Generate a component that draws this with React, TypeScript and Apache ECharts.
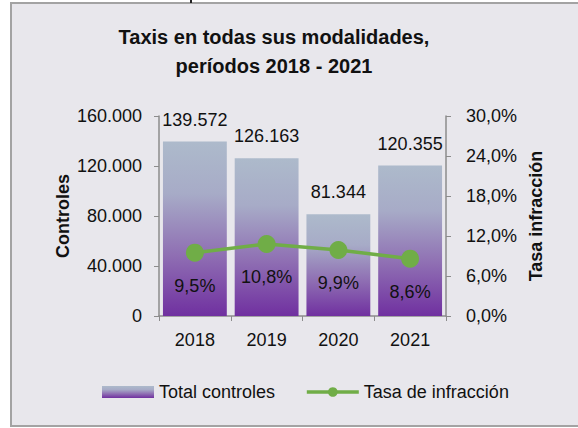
import React, { useEffect, useRef } from "react";
import * as echarts from "echarts";

const categories = ["2018", "2019", "2020", "2021"];
const totalControles = [139572, 126163, 81344, 120355];
const tasaInfraccion = [0.095, 0.108, 0.099, 0.086];
const titleLines = ["Taxis en todas sus modalidades,", "períodos 2018 - 2021"];

const FONT = "'Liberation Sans Narrow', 'Arial Narrow', 'Liberation Sans', Arial, sans-serif";

const fmtThousands = (v: number) =>
  String(Math.round(v)).replace(/\B(?=(\d{3})+(?!\d))/g, ".");
const fmtPct = (v: number) => (v * 100).toFixed(1).replace(".", ",") + "%";

export default function App() {
  const ref = useRef<HTMLDivElement>(null);
  useEffect(() => {
    if (!ref.current) return;
    const chart = echarts.init(ref.current, undefined, { renderer: "svg" });
    const barGradient = new echarts.graphic.LinearGradient(0, 0, 0, 1, [
      { offset: 0, color: "#ADBACB" },
      { offset: 0.3, color: "#A7ABC7" },
      { offset: 0.65, color: "#8F6FB3" },
      { offset: 1, color: "#7030A0" },
    ]);
    chart.setOption({
      animation: false,
      backgroundColor: "#ffffff",
      textStyle: { fontFamily: FONT },
      graphic: [
        {
          type: "rect",
          z: -10,
          shape: { x: 11, y: 3, width: 580, height: 423 },
          style: { fill: "#E8E7EC", stroke: "#A3A3A3", lineWidth: 2 },
          silent: true,
        },
        {
          type: "rect",
          shape: { x: 190, y: 0, width: 2, height: 3 },
          style: { fill: "#222222" },
          silent: true,
        },
      ],
      title: {
        text: titleLines.join("\n"),
        left: 269,
        textAlign: "center",
        top: 17,
        textStyle: {
          fontFamily: FONT,
          fontSize: 20,
          fontWeight: "bold",
          lineHeight: 29,
          color: "#111111",
        },
      },
      legend: {
        left: 97,
        top: 378,
        itemWidth: 52,
        itemHeight: 12,
        itemGap: 30,
        textStyle: { fontFamily: FONT, fontSize: 18, color: "#111111" },
        data: [
          { name: "Total controles", icon: "rect" },
          {
            name: "Tasa de infracción",
            lineStyle: { width: 3.5, color: "#70AD47" },
          },
        ],
      },
      grid: { left: 159, right: 132, top: 116, bottom: 112 },
      xAxis: {
        type: "category",
        data: categories,
        axisLine: { lineStyle: { color: "#8C8C8C", width: 1.5 } },
        axisTick: { show: true, length: 5, lineStyle: { color: "#8C8C8C" } },
        axisLabel: { fontFamily: FONT, fontSize: 18, color: "#111111", margin: 15 },
      },
      yAxis: [
        {
          type: "value",
          min: 0,
          max: 160000,
          interval: 40000,
          name: "Controles",
          nameLocation: "middle",
          nameRotate: 90,
          nameGap: 87,
          nameTextStyle: { fontFamily: FONT, fontSize: 18, fontWeight: "bold", color: "#111111" },
          axisLine: { show: true, lineStyle: { color: "#8C8C8C", width: 1.5 } },
          axisTick: { show: true, length: 5, lineStyle: { color: "#8C8C8C" } },
          splitLine: { show: false },
          axisLabel: {
            fontFamily: FONT,
            fontSize: 18,
            color: "#111111",
            margin: 17,
            formatter: (v: number) => fmtThousands(v),
          },
        },
        {
          type: "value",
          position: "right",
          min: 0,
          max: 0.3,
          interval: 0.06,
          name: "Tasa infracción",
          nameLocation: "middle",
          nameRotate: 90,
          nameGap: 81,
          nameTextStyle: { fontFamily: FONT, fontSize: 18, fontWeight: "bold", color: "#111111" },
          axisLine: { show: true, lineStyle: { color: "#8C8C8C", width: 1.5 } },
          axisTick: { show: true, length: 5, lineStyle: { color: "#8C8C8C" } },
          splitLine: { show: false },
          axisLabel: {
            fontFamily: FONT,
            fontSize: 18,
            color: "#111111",
            margin: 20,
            formatter: (v: number) => fmtPct(v),
          },
        },
      ],
      series: [
        {
          name: "Total controles",
          type: "bar",
          data: totalControles,
          barCategoryGap: "11%",
          itemStyle: { color: barGradient },
          label: {
            show: true,
            position: "top",
            distance: 13,
            fontFamily: FONT,
            fontSize: 18,
            color: "#111111",
            formatter: (p: any) => fmtThousands(p.value),
          },
        },
        {
          name: "Tasa de infracción",
          type: "line",
          yAxisIndex: 1,
          data: tasaInfraccion,
          symbol: "circle",
          symbolSize: 18,
          lineStyle: { color: "#70AD47", width: 3.5 },
          itemStyle: { color: "#70AD47" },
          label: {
            show: true,
            position: "bottom",
            distance: 15,
            fontFamily: FONT,
            fontSize: 18,
            color: "#111111",
            formatter: (p: any) => fmtPct(p.value),
          },
        },
      ],
    });
    return () => chart.dispose();
  }, []);
  return (
    <div
      ref={ref}
      style={{ position: "fixed", left: 0, top: 0, width: 578, height: 428 }}
    />
  );
}
